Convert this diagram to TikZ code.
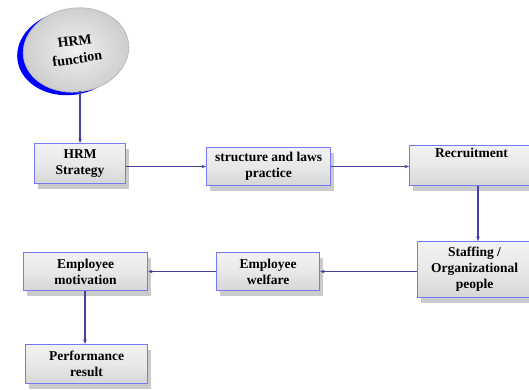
\documentclass[tikz,border=0pt]{standalone}
\usepackage{fontspec}
\setmainfont{Liberation Serif}
\usetikzlibrary{shapes.geometric,shadows,arrows.meta}
\definecolor{linkblue}{RGB}{68,68,160}
\definecolor{edgeblue}{RGB}{120,120,245}
\begin{document}
\begin{tikzpicture}[
    x=1pt, y=-1pt,
    box/.style={rectangle, draw=edgeblue, line width=1.1pt,
      top color=gray!10, bottom color=gray!32, middle color=gray!18,
      align=center, font=\bfseries\fontsize{13.5}{16}\selectfont,
      inner sep=1pt, anchor=north west,
      drop shadow={shadow xshift=3pt, shadow yshift=-5pt, fill=black!45, opacity=.45}},
    oval/.style={ellipse, draw=gray!60, line width=0.6pt,
      inner color=gray!12, outer color=gray!40,
      align=center, font=\bfseries\fontsize{14}{18}\selectfont,
      minimum width=106pt, minimum height=84pt, rotate=8,
      general shadow={fill=blue, shadow xshift=-6pt, shadow yshift=-3pt}},
    link/.style={draw=linkblue, line width=1.2pt,
      -{Stealth[length=4.5pt,width=3.5pt]}}]
  \useasboundingbox (0,0) rectangle (529,389);
  % start
  \node[oval] (func) at (76,50) {HRM\\function};
  % first row
  \node[box, minimum width=91pt, minimum height=40pt] (strat) at (34,143) {HRM\\Strategy};
  \node[box, minimum width=124pt, minimum height=38pt] (laws) at (206,147) {structure and laws\\practice};
  \node[box, minimum width=124pt, minimum height=40pt] (recr) at (409,145) {Recruitment\\[10pt]};
  % second row
  \node[box, minimum width=114pt, minimum height=56pt] (staff) at (417,241) {Staffing /\\Organizational\\people};
  \node[box, minimum width=103pt, minimum height=38pt] (welf) at (216,252) {Employee\\welfare};
  \node[box, minimum width=124pt, minimum height=38pt] (motiv) at (23,252) {Employee\\motivation};
  \node[box, minimum width=122pt, minimum height=39pt] (perf) at (25,344) {Performance\\result};
  % connectors
  \draw[link] (func.south -| strat.north) ++(0,-1) -- (strat.north);
  \draw[link] (strat.east |- laws.west) -- (laws.west);
  \draw[link] (laws.east) -- (recr.west |- laws.east);
  \draw[link] (recr.south -| 478,0) -- (staff.north -| 478,0);
  \draw[link] (staff.west |- welf.east) -- (welf.east);
  \draw[link] (welf.west) -- (motiv.east);
  \draw[link] (motiv.south -| 85,0) -- (perf.north -| 85,0);
\end{tikzpicture}
\end{document}
